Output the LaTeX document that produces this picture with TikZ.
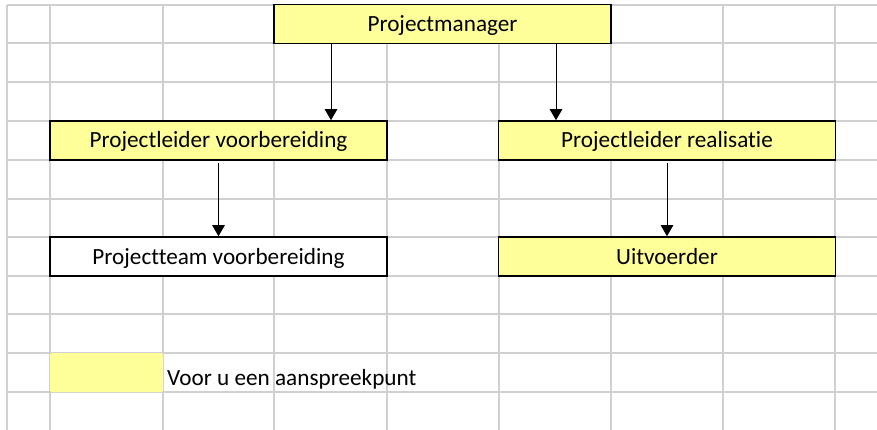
\documentclass[tikz,border=0pt]{standalone}
\usepackage{fontspec}
\setmainfont{Carlito}[RawFeature={-liga;-dlig;-clig}]
\usetikzlibrary{arrows.meta}
\definecolor{gridgray}{RGB}{208,208,208}
\definecolor{boxyellow}{RGB}{255,255,153}
\begin{document}
\begin{tikzpicture}[x=1pt,y=-1pt,
  gridline/.style={draw=gridgray,line width=1.3pt},
  orgbox/.style={draw=black,line width=1.6pt,minimum width=337pt,minimum height=39pt,inner sep=0pt,
    font=\fontsize{23.2pt}{26pt}\selectfont,text height=15pt,text depth=0pt},
  yellowbox/.style={orgbox,fill=boxyellow},
  whitebox/.style={orgbox,fill=white},
  arr/.style={draw=black,line width=1pt,-{Triangle[length=11pt,width=12.5pt]}}]
\useasboundingbox (0,0) rectangle (877,430);
\fill[white] (0,0) rectangle (877,430);
% grid
\foreach \gx in {7,50,163,274,387,499,611,723,835}
  \draw[gridline] (\gx,5) -- (\gx,430);
\foreach \gy in {5,43,82,121,160,199,237,276,314,353,392}
  \draw[gridline] (7,\gy) -- (877,\gy);
% boxes
\node[yellowbox] (pm) at (442.5,24) {Projectmanager};
\node[yellowbox] (plv) at (218.5,140.5) {Projectleider voorbereiding};
\node[yellowbox] (plr) at (667,140.5) {Projectleider realisatie};
\node[whitebox] (ptv) at (218.5,256.5) {Projectteam voorbereiding};
\node[yellowbox] (uit) at (667,256.5) {Uitvoerder};
% arrows
\draw[arr] ([xshift=112.5pt]plv.north |- pm.south) -- ([xshift=112.5pt]plv.north);
\draw[arr] ([xshift=-111pt]plr.north |- pm.south) -- ([xshift=-111pt]plr.north);
\draw[arr,shorten <=2pt] (plv.south) -- (ptv.north);
\draw[arr,shorten <=2pt] (plr.south) -- (uit.north);
% legend
\node[fill=boxyellow,rounded corners=1.5pt,minimum width=113pt,minimum height=39pt,inner sep=0pt] (legbox) at (106.5,372.5) {};
\node[anchor=base west,inner sep=0pt,font=\fontsize{23.2pt}{26pt}\selectfont] (legtext) at (167,385) {Voor u een aanspreekpunt};
\end{tikzpicture}
\end{document}
